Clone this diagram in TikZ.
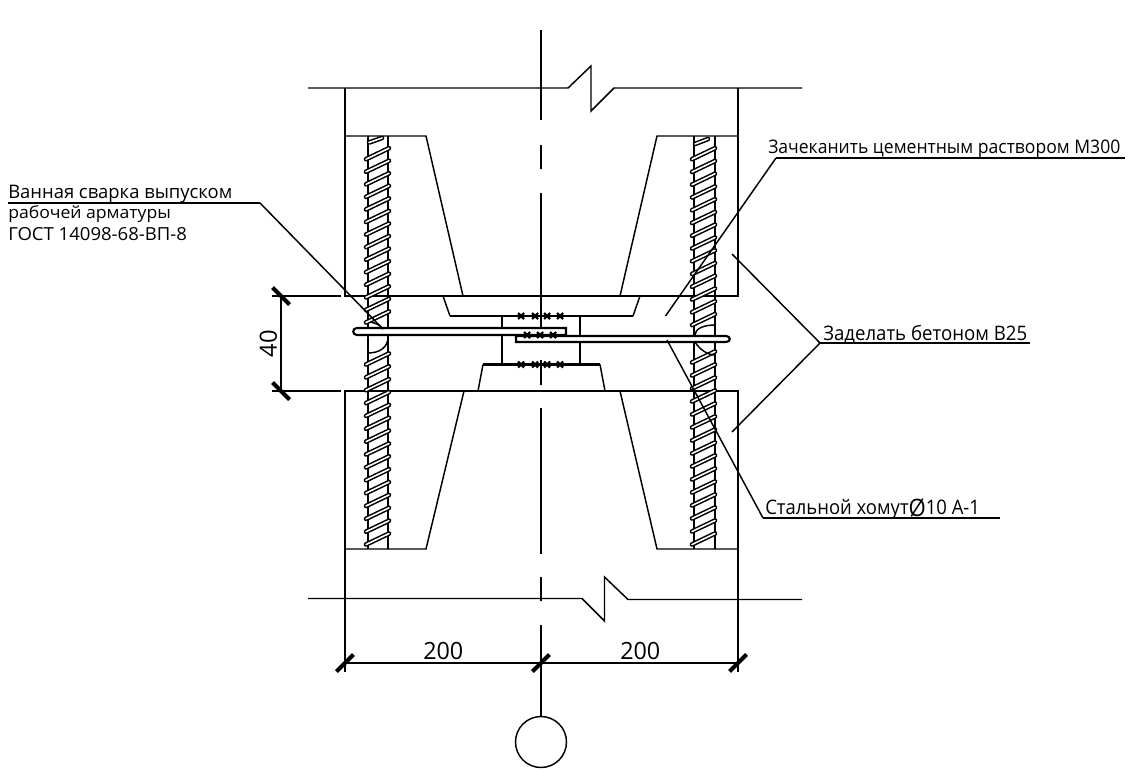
\documentclass[tikz,border=0pt]{standalone}
\usepackage{fontspec}
\usepackage{graphicx}
\setmainfont{Open Sans}
\tikzset{
  cadline/.style={line width=1.1pt},
  cadthick/.style={line width=1.6pt},
  cadtick/.style={line width=3pt},
  cadtext/.style={anchor=base west, inner sep=0pt},
}
% rib of a rebar: black stroke with a white core
\def\rebarrib(#1,#2){
  \draw [line width=3.5pt, line cap=round] (#1-1,#2+5.5) -- (#1+22,#2-5.5);
  \draw [line width=1.2pt, white, line cap=round] (#1-1,#2+5.5) -- (#1+22,#2-5.5);
}
\def\weldx(#1,#2){
  \draw [cadthick] (#1-3,#2-3) -- (#1+3,#2+3);
  \draw [cadthick] (#1-3,#2+3) -- (#1+3,#2-3);
}
\def\dimtick(#1,#2,#3){
  \draw [cadtick] (#1-8.5,#2+#3*8.5) -- (#1+8.5,#2-#3*8.5);
}
\def\cadlabel(#1,#2,#3,#4,#5)#6{
  \node[cadtext, font=\fontsize{#4}{#4}\selectfont] (#1) at (#2,#3) {\resizebox{#5pt}{\height}{#6}};
}
\begin{document}
\begin{tikzpicture}[x=0.75pt,y=-0.75pt]
\useasboundingbox (0,0) rectangle (1128,771);
% axis
\draw[cadline] (541,30) -- (541,120);
\draw[cadline] (541,145) -- (541,169);
\draw[cadline] (541,193) -- (541,330);
\draw[cadline] (541,360) -- (541,385);
\draw[cadline] (541,408) -- (541,554);
\draw[cadline] (541,577) -- (541,601);
% break lines
\draw[cadline] (308,88) -- (568,88) -- (591,66) -- (591,111) -- (614,88) -- (802,88);
\draw[cadline] (308,598.5) -- (582,598.5) -- (604.5,621) -- (604.5,577) -- (628,599.5) -- (802,599.5);
% upper column
\draw[cadline] (345,88) -- (345,296) -- (738,296) -- (738,88);
\draw[cadline] (345,136) -- (426,136) -- (463,296);
\draw[cadline] (738,136) -- (657,136) -- (620,296);
% lower column
\draw[cadline] (345,672) -- (345,391) -- (738,391) -- (738,672);
\draw[cadline] (345,549) -- (426,549) -- (464,391);
\draw[cadline] (738,549) -- (657,549) -- (620,391);
% plates
\draw[cadline] (443,296) -- (450,316);
\draw[cadline] (640,296) -- (633,316);
\draw[cadthick] (450,316) -- (633,316);
\draw[cadline] (478,391) -- (483,364.5);
\draw[cadline] (605,391) -- (600,364.5);
\draw[cadthick] (483,364.5) -- (600,364.5);
\draw[cadthick] (502,316) -- (502,364.5);
\draw[cadthick] (580,316) -- (580,364.5);
% rebars
\draw[cadthick] (368,136) -- (368,549);
\draw[cadline] (388,136) -- (388,549);
\draw[cadthick] (694,136) -- (694,549);
\draw[cadline] (715,136) -- (715,549);
\foreach \k in {0,...,13} {
  \rebarrib(367,153.7+12.56*\k)
  \rebarrib(693,153.7+12.76*\k)
}
\foreach \k in {0,...,14} {
  \rebarrib(367,359+12.86*\k)
  \rebarrib(693,357+13*\k)
}
\draw [line width=3.5pt, line cap=round] (369,142.5) -- (382,138);
\draw [line width=1.2pt, white, line cap=round] (369,142.5) -- (382,138);
\draw [line width=3.5pt, line cap=round] (695,144) -- (708,139);
\draw [line width=1.2pt, white, line cap=round] (695,144) -- (708,139);
% welds
\draw[cadline] (370,322) .. controls (376,323) and (380,325) .. (383,329);
\draw[cadline] (388,337) .. controls (388,347) and (380,353) .. (368,353);
\draw[cadline] (715,325) .. controls (703,325) and (695,329) .. (695,335);
\draw[cadline] (695,342) .. controls (700,350) and (708,355) .. (715,355);
% stirrup rods
\draw[cadthick, fill=white] (566,335) -- (357,335) .. controls (352,335) and (352,328) .. (357,328) -- (566,328) -- cycle;
\draw[cadthick, fill=white] (516,336) -- (516,342) -- (726,342) .. controls (731,342) and (731,336) .. (726,336) -- cycle;
\foreach \xx in {521,535,547,560} {
  \weldx(\xx,316)
  \weldx(\xx,364.5)
}
\foreach \xx in {527,540,553} {
  \weldx(\xx,335)
}
% dimensions
\draw[cadline] (272,296) -- (341,296);
\draw[cadline] (272,391) -- (341,391);
\draw[cadline] (281,296) -- (281,391);
\dimtick(281,296,-1)
\dimtick(281,391,-1)
\draw[cadline] (345,663) -- (738,663);
\dimtick(345,663,1)
\dimtick(541,663,1)
\dimtick(738,663,1)
\node[font=\fontsize{17.8}{17.8}\selectfont, rotate=90, inner sep=0pt] (dim_h) at (268.5,343.5) {40};
\cadlabel(dim_left,423,659.5,17.8,30){200}
\cadlabel(dim_right,620,659.5,17.8,30){200}
% axis bubble
\coordinate (axis_tail) at (541,625);
\node[draw, cadline, circle, minimum size=38.25pt, inner sep=0pt] (axis_bubble) at (541,742) {};
\draw[cadline] (axis_tail) -- (axis_bubble.north);
% leaders
\coordinate (weld_tip) at (383,329);
\coordinate (weld_knee) at (260,203);
\coordinate (weld_end) at (8,203);
\draw[cadline] (weld_tip) -- (weld_knee);
\draw[cadthick] (weld_knee) -- (weld_end);
\cadlabel(lbl_weld1,8,198.5,14,168){Ванная сварка выпуском}
\cadlabel(lbl_weld2,8,218,12.6,122){рабочей арматуры}
\cadlabel(lbl_weld3,8,240,13.5,134){ГОСТ 14098-68-ВП-8}
\coordinate (grout_tip) at (665.5,316);
\coordinate (grout_knee) at (776,158);
\coordinate (grout_end) at (1125,158);
\draw[cadline] (grout_tip) -- (grout_knee);
\draw[cadthick] (grout_knee) -- (grout_end);
\cadlabel(lbl_grout,768,153.5,14,264){Зачеканить цементным раствором М300}
\coordinate (conc_tip_a) at (732,254);
\coordinate (conc_tip_b) at (732,432);
\coordinate (conc_knee) at (820,343);
\coordinate (conc_end) at (1030,343);
\draw[cadline] (conc_tip_a) -- (conc_knee) -- (conc_tip_b);
\draw[cadthick] (conc_knee) -- (conc_end);
\cadlabel(lbl_conc,823,340,15,153){Заделать бетоном В25}
\coordinate (clamp_tip) at (667,340);
\coordinate (clamp_knee) at (763,518);
\coordinate (clamp_end) at (1000,518);
\draw[cadline] (clamp_tip) -- (clamp_knee);
\draw[cadthick] (clamp_knee) -- (clamp_end);
\cadlabel(lbl_clamp,765,514,15,161){Стальной хомут{\fontsize{18}{18}\selectfont\raisebox{-2pt}{Ø}}10 А-1}
\end{tikzpicture}
\end{document}
